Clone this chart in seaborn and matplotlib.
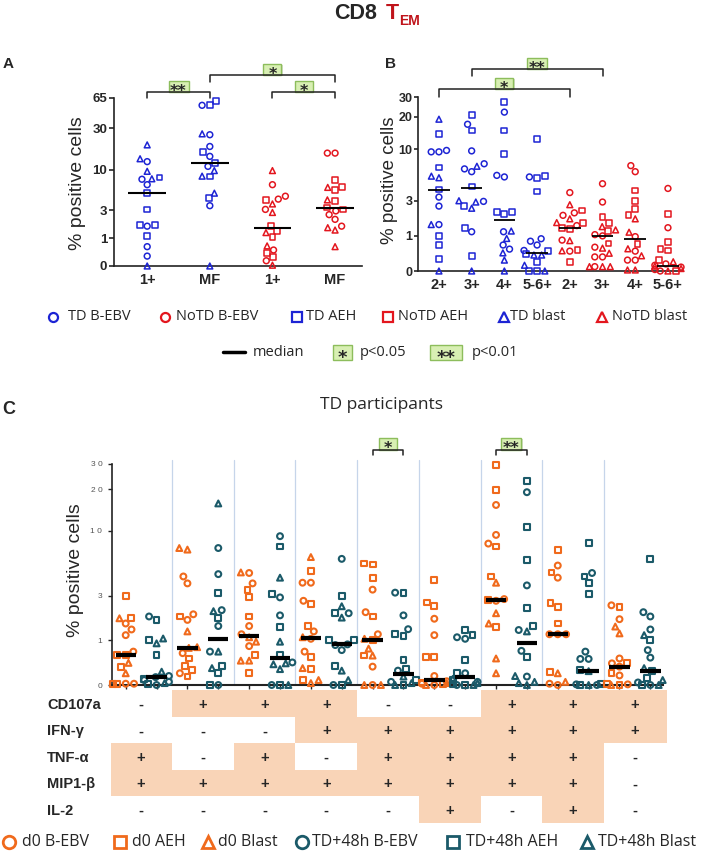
import warnings
import numpy as np
import pandas as pd
import matplotlib
matplotlib.use("Agg")
import matplotlib.pyplot as plt
from matplotlib.lines import Line2D
from matplotlib.markers import MarkerStyle
from matplotlib.patches import Rectangle
from matplotlib import transforms
import seaborn as sns

warnings.filterwarnings("ignore")

# ---------------- data ----------------
# markers: o = B-EBV, s = AEH, ^ = blast

A_labels = ["1+", "MF", "1+", "MF"]
A_group = ["TD", "TD", "NoTD", "NoTD"]
A_vals = [
    [19.5, 12.5, 13.5, 9.6, 7.7, 7.8, 8.1, 6.6, 5.15, 3.1, 1.8, 1.7, 1.8, 1.13, 0.62, 0.28, 0],
    [60, 54, 54, 26, 25.4, 18.7, 16, 14.4, 12, 11, 8.3, 8.4, 9.8, 5.15, 4.4, 3.5, 0],
    [9.8, 6.6, 4.3, 4.2, 4.7, 3.7, 3.1, 2.8, 1.7, 1.4, 1.3, 1.08, 0.65, 0.49, 0.37, 0.24, 0.14, 0.02],
    [15.7, 15.7, 7.6, 6.1, 6.1, 5.7, 4.1, 4.2, 3.3, 3.1, 2.95, 2.6, 2.2, 1.6, 1.45, 1.7, 0.62],
]
A_marks = ["^o^^o^sosssossoo^", "sos^oososos^^^so^", "^ooso^o^ss^s^osso^", "ooss^ss^ssooo^^o^"]
A_medians = [5.15, 12, 1.56, 3.3]
A_yticks = [0, 1, 3, 10, 30, 65]
A_sig = [(0, 1, "**"), (2, 3, "*"), (1, 3, "*")]

B_labels = ["2+", "3+", "4+", "5-6+", "2+", "3+", "4+", "5-6+"]
B_group = ["TD"] * 4 + ["NoTD"] * 4
B_vals = [
    [19, 13.9, 9.8, 9.5, 9.5, 6.7, 5.5, 5.3, 4.0, 3.3, 2.6, 1.5, 1.5, 0.99, 0.67, 0.27, 0],
    [20.9, 17.1, 15, 9.7, 7.3, 6.9, 6.5, 6.1, 4.3, 3.0, 2.95, 2.9, 2.6, 2.45, 1.35, 1.17, 0.34, 0],
    [27, 22, 15, 9.1, 5.4, 5.6, 2.2, 2.1, 2.2, 1.17, 1.2, 0.9, 0.67, 0.54, 0.43, 0.24, 0],
    [12.6, 5.4, 5.3, 5.5, 3.8, 0.89, 0.67, 0.8, 0.5, 0.48, 0.37, 0.37, 0.4, 0.2, 0.12, 0, 0, 0],
    [3.7, 2.7, 2.3, 2.15, 2.0, 1.8, 1.6, 1.6, 1.45, 1.35, 1.3, 0.84, 0.82, 0.51, 0.49, 0.48, 0.19],
    [4.6, 2.9, 1.9, 1.6, 1.4, 1.25, 1.2, 1.05, 1.0, 0.72, 0.6, 0.57, 0.42, 0.32, 0.32, 0.09, 0.09, 0.09, 0.09],
    [7.0, 6.1, 3.9, 3.0, 2.4, 2.0, 1.8, 1.15, 0.97, 0.7, 0.55, 0.48, 0.35, 0.24, 0.24, 0.02, 0.02],
    [4.1, 2.07, 1.35, 0.76, 0.55, 0.5, 0.24, 0.2, 0.15, 0.12, 0.1, 0.08, 0.05, 0.03, 0, 0, 0],
]
B_marks = ["^sooos^^soo^osss^", "sosoo^oos^o^s^sos^", "sossoossso^^oo^^^", "sosssoooos^^ss^ss^",
           "o^soo^s^osso^s^os", "ooss^^sooso^^oo^^^o", "oossss^^os^o^oo^^", "osossss^oo^o^oo^s"]
B_medians = [3.9, 4.1, 1.73, 0.42, 1.35, 1.0, 0.88, 0.1]
B_yticks = [0, 1, 3, 10, 20, 30]
B_sig = [(1, 5, "**"), (0, 4, "*")]

# panel C: 9 cytokine combinations x (d0, TD+48h)
C_time = ["d0", "TD+48h"] * 9
C_vals = [
    [3.0, 1.82, 1.85, 1.6, 1.37, 1.17, 0.68, 0.6, 0.6, 0.41, 0.33, 0.2, 0.02, 0.02, 0.02, 0.02],
    [1.9, 1.75, 1.06, 1.0, 0.91, 0.6, 0.23, 0.15, 0.13, 0.1, 0.08, 0.05, 0.03, 0.02, 0],
    [7.2, 7.4, 4.4, 3.85, 2.0, 1.9, 1.75, 1.3, 0.8, 0.78, 0.64, 0.51, 0.35, 0.26, 0.2, 0.14],
    [15.8, 7.4, 4.6, 3.15, 2.2, 2.15, 1.85, 1.5, 0.68, 0.68, 0.34, 0.3, 0.2, 0, 0],
    [4.7, 4.75, 3.85, 3.4, 2.9, 1.9, 1.5, 1.2, 1.1, 0.96, 0.83, 0.6, 0.46, 0.46, 0.2],
    [9.1, 7.6, 4.3, 3.1, 2.9, 1.95, 1.45, 0.96, 0.6, 0.4, 0.42, 0.38, 0.28, 0, 0, 0],
    [6.3, 4.9, 3.9, 3.9, 2.7, 2.5, 1.5, 1.3, 1.1, 1.05, 0.68, 0.55, 0.3, 0.28, 0.08, 0.08, 0.03],
    [6.1, 3.0, 2.4, 2.05, 2.05, 1.85, 1.01, 1.0, 0.88, 0.86, 0.72, 0.34, 0.25, 0.08, 0, 0],
    [5.6, 5.5, 4.3, 3.4, 2.1, 1.9, 1.2, 1.05, 1.0, 0.76, 0.58, 0.58, 0.33, 0, 0, 0],
    [3.2, 3.2, 1.95, 1.38, 1.2, 1.15, 0.47, 0.28, 0.25, 0.14, 0.08, 0.05, 0.03, 0, 0],
    [4.1, 2.6, 2.4, 1.8, 1.17, 0.55, 0.55, 0.15, 0.06, 0.04, 0.03, 0.02, 0.01, 0, 0],
    [1.35, 1.17, 1.1, 1.05, 0.47, 0.2, 0.2, 0.1, 0.08, 0.05, 0.03, 0.02, 0, 0, 0],
    [29.5, 19.8, 15.4, 9.3, 8.0, 7.6, 4.4, 3.9, 2.8, 2.75, 2.7, 2.05, 1.6, 1.45, 0.51, 0.2],
    [22.9, 19, 10.7, 6.0, 3.7, 2.3, 1.5, 1.35, 1.3, 0.7, 0.55, 0.15, 0.14, 0.05, 0.03, 0],
    [7.1, 5.4, 4.75, 4.3, 2.56, 2.35, 1.6, 1.2, 1.2, 1.2, 0.23, 0.2, 0.05, 0.02, 0],
    [8.1, 4.7, 4.4, 3.85, 3.1, 0.68, 0.5, 0.5, 0.26, 0.24, 0.02, 0.01, 0, 0, 0],
    [2.45, 2.35, 1.78, 1.48, 1.23, 0.51, 0.4, 0.4, 0.33, 0.2, 0.16, 0.02, 0.01, 0, 0],
    [6.1, 2.1, 1.9, 1.37, 1.17, 1.0, 0.72, 0.53, 0.3, 0.24, 0.12, 0.08, 0.04, 0, 0, 0],
]
C_marks = ["s^sooooss^s^osos", "os^s^s^oosoo^so", "^^oooso^^^osssos", "^ooso^soo^s^sos",
           "o^osssoo^^os^^s", "os^soos^s^o^^o^s", "^sooosso^oos^s^s^", "os^so^ssooos^^os",
           "sssooso^s^s^o^^o", "sooosssso^so^s^", "sssoossoos^oso^", "ssoosos^so^so^s",
           "ssoooss^oso^^s^^", "sossosso^os^o^^^", "sososssooos^^oo", "sosssooos^soso^",
           "oso^^oosososos^", "sooo^soo^ss^os^o"]
C_medians = [0.6, 0.13, 0.77, 1.04, 1.13, 0.53, 1.06, 0.88, 1.0,
             0.19, 0.08, 0.13, 2.75, 0.93, 1.2, 0.24, 0.33, 0.24]
C_yticks = [0, 1, 3, 10, 20, 30]
C_yticklabels = ["0", "1", "3", "1 0", "2 0", "3 0"]
C_sig = [(8, 9, "*"), (12, 13, "**")]

T_rows = ["CD107a", "IFN-γ", "TNF-α", "MIP1-β", "IL-2"]
T_cells = [
    "-+++--+++",
    "---++++++",
    "+-+-++++-",
    "++++++++-",
    "-----+-+-",
]

legend_top = ["TD B-EBV", "NoTD B-EBV", "TD AEH", "NoTD AEH", "TD blast", "NoTD blast"]
legend_bottom = ["d0 B-EBV", "d0 AEH", "d0 Blast", "TD+48h B-EBV", "TD+48h AEH", "TD+48h Blast"]

# ---------------- style ----------------
BLUE = "#1d24d4"
RED = "#e3161e"
ORANGE = "#f06a1c"
TEAL = "#1b5a69"
TITLE_RED = "#c0141b"
PEACH = "#f9d4b7"
SIG_FACE = "#d8efb3"
SIG_EDGE = "#8dbd5c"
DIVIDER = "#c6d5ea"
GROUP_COLOR = {"TD": BLUE, "NoTD": RED, "d0": ORANGE, "TD+48h": TEAL}

sns.set_style("ticks")
plt.rcParams["font.family"] = ["Liberation Sans", "DejaVu Sans"]

W, H = 709, 857
fig = plt.figure(figsize=(W / 100, H / 100), dpi=100)


def fx(px):
    return px / W


def fy(py):
    return 1 - py / H


def axes_px(left, top, right, bottom):
    return fig.add_axes([fx(left), fy(bottom), (right - left) / W, (bottom - top) / H])


def fwd(v):
    return np.log10(np.asarray(v, dtype=float) + 1)


def inv(v):
    return 10 ** np.asarray(v, dtype=float) - 1


def marker_path(code):
    m = MarkerStyle(code)
    return m.get_path().transformed(m.get_transform())


PATHS = {c: marker_path(c) for c in "os^"}


def swarm(ax, vals, marks, colors, size, lw):
    for v, m in zip(vals, marks):
        assert len(v) == len(m)
    keys = [f"c{i}" for i in range(len(vals))]
    df = pd.DataFrame({
        "cat": np.repeat(keys, [len(v) for v in vals]),
        "val": np.concatenate(vals),
    })
    n0 = len(ax.collections)
    sns.swarmplot(data=df, x="cat", y="val", order=keys, size=size, color="k",
                  ax=ax, warn_thresh=1.0)
    for coll, mk, col in zip(ax.collections[n0:], marks, colors):
        coll.set_paths([PATHS[c] for c in mk])
        coll.set_facecolor("none")
        coll.set_edgecolor(col)
        coll.set_linewidth(lw)
        coll.set_clip_on(False)
        coll.set_zorder(4)
    ax.set_xlabel("")
    ax.set_ylabel("")


def sig_box(cx, cy, w, h, label, fs=10):
    fig.add_artist(Rectangle((fx(cx - w / 2 + 1.2), fy(cy + h / 2 + 1.2)), w / W, h / H,
                             transform=fig.transFigure, fc="#b9c9a6", ec="none", alpha=0.6))
    fig.add_artist(Rectangle((fx(cx - w / 2), fy(cy + h / 2)), w / W, h / H,
                             transform=fig.transFigure, fc=SIG_FACE, ec=SIG_EDGE, lw=1))
    fig.text(fx(cx), fy(cy + fs * 0.42), label, ha="center", va="center",
             fontsize=fs, fontweight="bold", family="DejaVu Sans")


def bracket(ax, i0, i1, label, y_px, leg_px, box_w, box_h=11, fs=11.5):
    x0 = ax.transData.transform((i0, 1))[0]
    x1 = ax.transData.transform((i1, 1))[0]
    fig.add_artist(Line2D([fx(x0), fx(x0), fx(x1), fx(x1)],
                          [fy(y_px + leg_px), fy(y_px), fy(y_px), fy(y_px + leg_px)],
                          transform=fig.transFigure, color="#222222", lw=1.1))
    sig_box((x0 + x1) / 2, y_px - box_h / 2, box_w, box_h, label, fs)


def style_axis(ax, ticks, labels=None, fs=10, bold=True):
    ax.set_yticks(ticks, labels if labels is not None else [str(t) for t in ticks],
                  fontsize=fs, fontweight="bold" if bold else "normal")
    ax.minorticks_off()
    sns.despine(ax=ax)
    for side in ("left", "bottom"):
        ax.spines[side].set_color("#222222")
        ax.spines[side].set_linewidth(1.2)


# ---------------- title ----------------
fig.text(fx(377), fy(19), "CD8", ha="right", va="baseline", fontsize=15.5, fontweight="bold")
fig.text(fx(386), fy(19), "T", ha="left", va="baseline", fontsize=15.5, fontweight="bold",
         color=TITLE_RED)
fig.text(fx(399), fy(25), "EM", ha="left", va="baseline", fontsize=10, fontweight="bold",
         color=TITLE_RED)

# ---------------- panel A ----------------
axA = axes_px(114, 98, 362, 266)
axA.set_yscale("function", functions=(fwd, inv))
swarm(axA, A_vals, A_marks, [GROUP_COLOR[g] for g in A_group], size=4.2, lw=1.1)
axA.set_ylim(0, 65)
axA.set_xlim(-0.53, 3.43)
xa = np.arange(len(A_labels))
axA.hlines(A_medians, xa - 0.3, xa + 0.3, color="black", lw=1.5, zorder=5)
style_axis(axA, A_yticks, fs=9.5)
axA.set_xticks(xa, A_labels, fontsize=10.5, fontweight="bold")
axA.tick_params(axis="x", length=0, pad=5)
axA.tick_params(axis="y", length=3.5, width=1.2, pad=1.5)
fig.text(fx(77), fy(183), "% positive cells", rotation=90, ha="center", va="center", fontsize=14)
fig.text(fx(8), fy(64), "A", ha="center", va="center", fontsize=11, fontweight="bold")
for (i0, i1, lab), (yp, leg) in zip(A_sig, [(92, 6), (92, 6), (75, 7)]):
    bracket(axA, i0, i1, lab, yp, leg, 20 if lab == "**" else 18)

# ---------------- panel B ----------------
axB = axes_px(418, 97, 683, 271)
axB.set_yscale("function", functions=(fwd, inv))
swarm(axB, B_vals, B_marks, [GROUP_COLOR[g] for g in B_group], size=4.2, lw=1.1)
axB.set_ylim(0, 30)
axB.set_xlim(-0.64, 7.46)
xb = np.arange(len(B_labels))
axB.hlines(B_medians, xb - 0.33, xb + 0.33, color="black", lw=1.3, zorder=5)
style_axis(axB, B_yticks, fs=9)
axB.set_xticks(xb, B_labels, fontsize=10.5, fontweight="bold")
axB.tick_params(axis="x", length=0, pad=5)
axB.tick_params(axis="y", length=3, width=1.2, pad=1)
fig.text(fx(390), fy(180), "% positive cells", rotation=90, ha="center", va="center", fontsize=13.5)
fig.text(fx(390), fy(64), "B", ha="center", va="center", fontsize=11, fontweight="bold")
for (i0, i1, lab), (yp, leg) in zip(B_sig, [(69, 7), (89, 8)]):
    bracket(axB, i0, i1, lab, yp, leg, 20 if lab == "**" else 18)

# ---------------- legends for A/B ----------------
top_colors = [BLUE, RED, BLUE, RED, BLUE, RED]
top_marks = ["o", "o", "s", "s", "^", "^"]
for lab, col, mk, mx, tx in zip(legend_top, top_colors, top_marks,
                                [53, 165, 297, 388, 504, 602], [68, 176, 306, 398, 510, 612]):
    fig.add_artist(Line2D([fx(mx)], [fy(317)], transform=fig.transFigure, marker=mk,
                          ms=6.5, mfc="none", mec=col, mew=1.6, ls="none"))
    fig.text(fx(tx), fy(317), lab, ha="left", va="center", fontsize=10.5, family="Open Sans")

fig.add_artist(Line2D([fx(223), fx(245)], [fy(352), fy(352)], transform=fig.transFigure,
                      color="black", lw=2.5))
fig.text(fx(253), fy(352), "median", ha="left", va="center", fontsize=10.5, family="Open Sans")
sig_box(342.5, 352.5, 19, 15, "*", fs=13)
fig.text(fx(360), fy(352), "p<0.05", ha="left", va="center", fontsize=10.5, family="Open Sans")
sig_box(446, 352.5, 32, 15, "**", fs=13)
fig.text(fx(472), fy(352), "p<0.01", ha="left", va="center", fontsize=10.5, family="Open Sans")

# ---------------- panel C ----------------
axC = axes_px(112, 464, 663, 685)
axC.set_yscale("function", functions=(fwd, inv))
swarm(axC, C_vals, C_marks, [GROUP_COLOR[t] for t in C_time], size=4.2, lw=1.5)
axC.set_ylim(0, 30)
axC.set_xlim(-0.444, 17.41)
xc = np.arange(len(C_time))
axC.hlines(C_medians, xc - 0.33, xc + 0.33, color="black", lw=3, zorder=5)
for xd in np.arange(1.5, len(C_time) - 2, 2):
    axC.axvline(xd, ymin=0, ymax=1.02, color=DIVIDER, lw=0.9, zorder=0, clip_on=False)
style_axis(axC, C_yticks, C_yticklabels, fs=6, bold=False)
for t in axC.get_yticklabels():
    t.set_color("#555555")
axC.set_xticks(xc, [""] * len(xc))
axC.tick_params(axis="x", length=3, width=1, color="#222222")
axC.tick_params(axis="y", length=3, width=1, pad=4, color="#222222")
axC.spines["bottom"].set_linewidth(1.5)
fig.text(fx(76), fy(570), "% positive cells", rotation=90, ha="center", va="center", fontsize=14)
fig.text(fx(9), fy(409), "C", ha="center", va="center", fontsize=13, fontweight="bold")
fig.text(fx(381), fy(405), "TD participants", ha="center", va="center", fontsize=12.5,
         family="Open Sans")
for i0, i1, lab in C_sig:
    bracket(axC, i0, i1, lab, 450, 5, 20 if lab == "**" else 18, box_h=12)

# ---------------- cytokine table ----------------
axT = axes_px(111, 690, 667, 823)
axT.set_xlim(-0.476, 17.54)
axT.set_ylim(len(T_rows), 0)
axT.axis("off")
edges = np.r_[axT.get_xlim()[0], np.arange(1.5, 16, 2), axT.get_xlim()[1]]
lab_tr = transforms.blended_transform_factory(fig.transFigure, axT.transData)
for r, (name, row) in enumerate(zip(T_rows, T_cells)):
    for g, s in enumerate(row):
        if s == "+":
            axT.bar(edges[g], 1, width=edges[g + 1] - edges[g], bottom=r, align="edge",
                    color=PEACH, lw=0)
        axT.text(2 * g + 0.5, r + 0.55, s, ha="center", va="center", fontsize=10.5,
                 fontweight="bold")
    axT.text(fx(47), r + 0.55, name, transform=lab_tr, ha="left", va="center",
             fontsize=10.5, fontweight="bold")

# ---------------- bottom legend ----------------
bot_colors = [ORANGE] * 3 + [TEAL] * 3
bot_marks = ["o", "s", "^"] * 2
for lab, col, mk, mx, tx in zip(legend_bottom, bot_colors, bot_marks,
                                [9, 120, 208, 302, 453, 587], [22, 132, 218, 312, 466, 598]):
    fig.add_artist(Line2D([fx(mx)], [fy(842)], transform=fig.transFigure, marker=mk,
                          ms=9, mfc="none", mec=col, mew=2, ls="none"))
    fig.text(fx(tx), fy(842), lab, ha="left", va="center", fontsize=11.5, family="Open Sans")

fig.savefig("out.png", dpi=100)
